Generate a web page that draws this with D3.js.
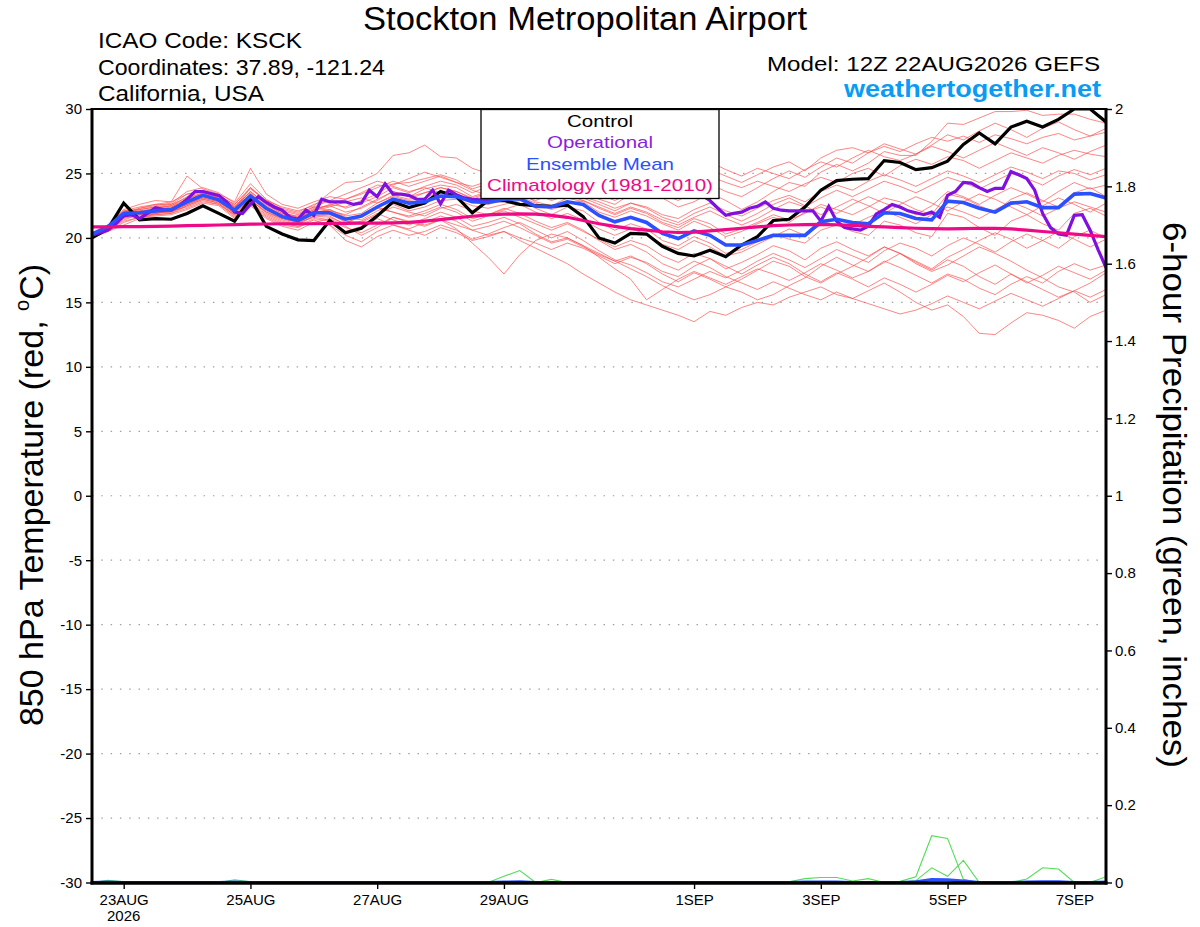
<!DOCTYPE html>
<html>
<head>
<meta charset="utf-8">
<script src="https://cdn.jsdelivr.net/npm/d3@7"></script>
<style>
  body { margin: 0; background: #fff; }
  svg { display: block; }
  text { font-family: "Liberation Sans", Arial, Helvetica, sans-serif; }
</style>
</head>
<body>
<svg id="chart" width="1200" height="927"></svg>
<script>
// Globals.
var RUN_START = Date.UTC(2026, 7, 22, 12);   // 12Z 22AUG2026
var HOUR = 3600 * 1000;
var FORECAST_HOURS = 384;

// Axis ticks.
var tempTicks = [-30, -25, -20, -15, -10, -5, 0, 5, 10, 15, 20, 25, 30];
var precipTicks = [0, 0.2, 0.4, 0.6, 0.8, 1, 1.2, 1.4, 1.6, 1.8, 2];
var dayTicks = ['2026-08-23', '2026-08-25', '2026-08-27', '2026-08-29',
                '2026-09-01', '2026-09-03', '2026-09-05', '2026-09-07'];
var dayLabels = ['23AUG', '25AUG', '27AUG', '29AUG', '1SEP', '3SEP', '5SEP', '7SEP'];

// 850 hPa temperature, 6-hourly (65 steps).
var control = [
  20.0, 20.7, 22.7, 21.4, 21.5, 21.45, 21.9, 22.5, 21.9, 21.3,
  23.05, 20.9, 20.3, 19.85, 19.8, 21.35, 20.4, 20.75, 21.7, 22.8,
  22.35, 22.7, 23.6, 23.2, 21.95, 22.9, 22.9, 22.6, 22.5, 22.45,
  22.55, 21.65, 20.0, 19.6, 20.35, 20.3, 19.35, 18.8, 18.6, 19.05,
  18.55, 19.45, 20.1, 21.35, 21.45, 22.4, 23.7, 24.45, 24.55, 24.6,
  26.0, 25.85, 25.3, 25.45, 25.95, 27.25, 28.15, 27.3, 28.6, 29.05,
  28.6, 29.2, 30.0, 30.0, 29.0];

var ensMean = [
  20.3, 20.85, 21.9, 21.95, 22.1, 22.2, 22.8, 23.3, 22.95, 22.15,
  23.25, 22.3, 21.65, 21.35, 21.95, 21.95, 21.45, 21.7, 22.4, 23.0,
  22.7, 22.8, 23.25, 23.2, 22.8, 22.75, 23.0, 23.05, 22.45, 22.4,
  22.8, 22.6, 21.75, 21.25, 21.6, 21.2, 20.35, 19.95, 20.55, 20.2,
  19.45, 19.45, 19.8, 20.2, 20.2, 20.2, 21.25, 21.45, 21.2, 21.1,
  21.95, 21.9, 21.5, 21.4, 22.85, 22.75, 22.3, 22.0, 22.7, 22.8,
  22.35, 22.35, 23.4, 23.45, 23.1];

var climatology = [
  20.85, 20.86, 20.87, 20.88, 20.9, 20.92, 20.95, 20.98, 21.0, 21.03,
  21.07, 21.08, 21.1, 21.1, 21.1, 21.12, 21.13, 21.14, 21.15, 21.17,
  21.2, 21.3, 21.42, 21.55, 21.68, 21.78, 21.84, 21.87, 21.85, 21.75,
  21.6, 21.35, 21.1, 20.9, 20.72, 20.6, 20.48, 20.42, 20.45, 20.55,
  20.65, 20.75, 20.85, 20.95, 21.0, 21.03, 21.05, 21.02, 20.97, 20.9,
  20.85, 20.8, 20.75, 20.72, 20.7, 20.72, 20.75, 20.74, 20.7, 20.6,
  20.5, 20.4, 20.3, 20.2, 20.1];

// Operational run, 3-hourly (129 steps).
var operational = [
  20.2, 20.4, 20.6, 21.1, 21.7, 21.8, 21.5, 21.9, 22.35, 22.2,
  22.15, 22.5, 23.0, 23.6, 23.6, 23.45, 23.3, 22.8, 22.0, 21.9,
  22.6, 23.2, 22.75, 22.4, 22.15, 21.6, 21.45, 22.15, 21.75, 23.0,
  22.8, 22.8, 22.8, 22.6, 22.7, 23.7, 23.2, 24.2, 23.4, 23.4,
  23.3, 23.0, 23.0, 23.7, 22.65, 23.7, 23.35, 23.1, 23.0, 22.95,
  22.95, 23.0, 23.05, 23.3, 23.6, 23.9, 24.2, 24.0, 23.8, 24.1,
  24.4, 24.6, 24.3, 24.5, 24.8, 25.0, 24.6, 24.4, 24.7, 24.9,
  24.5, 24.2, 24.0, 23.6, 23.5, 23.7, 23.4, 23.3, 22.9, 22.3,
  21.75, 21.9, 22.0, 22.3, 22.45, 22.8, 22.3, 22.15, 22.1, 22.1,
  22.1, 22.1, 21.3, 22.45, 21.3, 20.8, 20.7, 20.6, 20.9, 21.85,
  22.2, 22.6, 22.4, 22.1, 21.95, 21.8, 22.0, 21.6, 23.3, 23.6,
  24.3, 24.25, 23.9, 23.6, 23.85, 23.85, 25.15, 24.9, 24.6, 23.7,
  21.9, 20.8, 20.3, 20.2, 21.75, 21.8, 20.6, 19.1, 17.7];

// Ensemble members, 6-hourly (65 steps each).
var member01 = [
  20.2, 20.8, 21.6, 22.3, 22.6, 22.8, 23.4, 23.6, 23.2, 22.6, 23.8, 22.9, 22.4,
  22.1, 22.5, 23.5, 24.3, 24.4, 25.0, 26.4, 26.6, 27.2, 26.3, 26.2, 25.4, 25.0,
  25.2, 24.6, 24.0, 23.6, 24.2, 23.8, 23.0, 22.6, 23.4, 23.9, 23.1, 22.4, 22.8,
  23.5, 22.9, 22.2, 22.8, 23.6, 24.3, 24.0, 25.1, 25.7, 25.2, 25.8, 26.7, 26.4,
  26.4, 27.5, 28.9, 28.8, 29.3, 29.8, 29.8, 29.9, 29.5, 29.6, 29.6, 29.2, 28.9];
var member02 = [
  20.1, 20.6, 21.3, 21.6, 21.8, 21.9, 22.5, 23.0, 22.7, 21.8, 22.9, 22.0, 21.5,
  21.2, 21.6, 21.4, 20.8, 20.4, 21.0, 21.6, 21.3, 21.0, 21.4, 21.0, 20.6, 20.2,
  20.5, 19.8, 19.2, 18.6, 18.0, 17.2, 16.5, 15.8, 15.2, 14.8, 14.4, 14.0, 13.5,
  14.3, 14.0, 14.6, 15.0, 14.8, 15.4, 15.8, 16.2, 15.6, 15.3, 15.9, 16.5, 15.8,
  15.0, 14.4, 14.8, 13.9, 12.6, 12.5, 13.4, 14.2, 14.0, 13.6, 13.0, 13.9, 14.4];
var member03 = [
  20.0, 20.5, 21.0, 21.5, 21.9, 22.1, 22.4, 22.9, 22.6, 21.6, 22.8, 21.8, 21.2,
  20.9, 21.2, 21.5, 20.9, 20.2, 20.8, 21.6, 21.2, 20.9, 21.4, 20.7, 19.6, 18.5,
  17.2, 18.7, 19.8, 20.3, 20.0, 19.4, 18.8, 18.2, 17.6, 17.0, 16.3, 15.7, 15.2,
  15.6, 16.2, 15.8, 15.2, 15.6, 16.3, 16.9, 17.8, 18.5, 17.9, 17.4, 18.1, 18.8,
  18.0, 17.4, 17.9, 18.6, 19.3, 18.8, 18.2, 17.5, 16.9, 16.2, 15.8, 15.0, 15.6];
var member04 = [
  20.3, 21.0, 22.1, 22.2, 22.4, 22.6, 23.1, 23.5, 23.3, 22.4, 23.6, 22.6, 22.0,
  21.6, 22.2, 22.6, 22.4, 22.9, 23.4, 24.2, 24.3, 24.6, 24.9, 24.5, 23.8, 24.2,
  24.8, 24.4, 24.0, 24.6, 25.0, 24.5, 24.1, 23.8, 24.4, 24.9, 24.6, 24.0, 24.5,
  25.3, 24.8, 24.3, 24.9, 25.5, 25.9, 25.2, 26.2, 26.8, 27.0, 26.6, 27.1, 26.7,
  27.3, 27.8, 27.5, 27.9, 27.4, 28.0, 27.7, 27.3, 27.8, 28.1, 27.6, 27.9, 28.2];
var member05 = [
  20.2, 20.9, 22.0, 22.1, 22.3, 22.5, 23.2, 23.6, 23.1, 22.3, 23.9, 22.8, 22.1,
  21.8, 22.4, 22.1, 21.8, 22.4, 23.0, 23.6, 23.2, 23.8, 24.1, 23.9, 23.2, 23.6,
  24.2, 24.6, 24.0, 23.5, 24.3, 24.8, 24.2, 23.7, 23.3, 24.0, 24.5, 25.0, 25.3,
  24.8, 24.3, 23.9, 24.4, 24.0, 23.6, 24.2, 24.7, 24.3, 25.0, 25.4, 24.8, 25.6,
  26.1, 25.7, 26.3, 26.0, 25.4, 26.0, 26.6, 26.2, 25.8, 26.4, 26.8, 26.5, 26.3];
var member06 = [
  20.3, 20.9, 21.9, 22.1, 22.0, 22.3, 22.7, 23.2, 23.0, 22.3, 23.1, 22.2, 21.6,
  21.3, 21.9, 22.2, 21.6, 21.4, 22.1, 22.6, 22.1, 22.4, 22.9, 23.0, 22.5, 22.3,
  22.6, 22.9, 22.3, 21.8, 22.4, 22.1, 21.2, 20.6, 21.1, 20.7, 19.8, 19.4, 20.1,
  19.6, 18.8, 19.1, 19.7, 20.3, 19.9, 19.6, 20.6, 21.0, 20.5, 20.2, 21.3, 21.0,
  20.4, 20.1, 21.9, 21.6, 20.8, 20.2, 21.3, 21.8, 21.1, 20.6, 21.9, 22.3, 21.7];
var member07 = [
  20.2, 21.0, 22.2, 22.6, 22.9, 22.8, 24.8, 23.8, 23.4, 22.8, 25.4, 23.4, 22.6,
  22.3, 22.8, 23.2, 23.0, 23.5, 24.1, 24.0, 23.6, 23.9, 23.5, 23.2, 22.8, 22.6,
  22.9, 23.2, 22.7, 22.2, 22.6, 22.9, 22.3, 21.8, 22.3, 21.9, 21.2, 20.8, 21.5,
  21.1, 20.3, 20.7, 21.2, 21.8, 21.4, 21.9, 22.6, 22.2, 21.8, 22.4, 23.1, 22.8,
  22.2, 21.8, 23.4, 23.1, 22.5, 22.0, 23.0, 23.5, 22.9, 22.4, 23.5, 23.9, 23.2];
var member08 = [
  20.1, 20.7, 21.5, 21.8, 21.8, 21.9, 22.3, 22.8, 22.6, 21.8, 22.6, 21.6, 21.0,
  20.8, 21.4, 21.0, 19.8, 19.3, 20.1, 20.6, 20.2, 20.5, 21.0, 20.6, 19.9, 20.3,
  20.8, 21.2, 20.6, 20.0, 20.5, 19.8, 19.0, 18.3, 17.9, 17.3, 16.6, 16.2, 16.8,
  17.4, 16.9, 17.5, 18.2, 18.8, 18.3, 17.7, 18.4, 19.1, 18.6, 18.1, 19.0, 19.6,
  19.2, 18.6, 19.4, 20.0, 19.5, 18.9, 19.7, 20.3, 19.8, 19.2, 20.1, 20.6, 20.0];
var member09 = [
  20.2, 20.8, 21.8, 22.0, 22.2, 22.4, 22.9, 23.4, 23.2, 22.5, 23.5, 22.5, 21.9,
  21.6, 22.1, 22.4, 22.8, 23.1, 22.7, 23.3, 23.0, 23.5, 23.9, 23.6, 23.0, 23.4,
  23.7, 23.3, 22.9, 23.4, 23.8, 23.2, 22.8, 22.3, 22.7, 22.4, 21.8, 21.5, 22.2,
  22.7, 22.1, 21.7, 22.3, 22.9, 23.3, 22.8, 23.6, 24.1, 23.7, 24.4, 24.9, 24.5,
  24.0, 24.6, 25.2, 24.8, 24.3, 24.9, 25.5, 25.1, 24.6, 25.2, 25.0, 24.5, 24.9];
var member10 = [
  20.0, 20.6, 21.4, 21.8, 22.0, 22.0, 22.6, 23.1, 22.8, 21.9, 23.0, 21.9, 21.3,
  21.0, 21.7, 21.9, 21.2, 21.6, 22.3, 22.0, 21.6, 21.9, 22.4, 22.0, 21.3, 21.7,
  22.1, 21.6, 21.1, 20.6, 21.1, 20.5, 19.9, 19.3, 19.8, 19.4, 18.6, 18.1, 18.8,
  18.4, 17.6, 18.1, 18.7, 19.4, 19.0, 18.3, 19.2, 19.7, 19.1, 18.6, 19.3, 18.8,
  18.1, 17.5, 18.3, 17.8, 17.0, 16.4, 17.2, 16.6, 16.0, 15.4, 15.9, 16.5, 17.3];
var member11 = [
  20.3, 21.0, 22.0, 22.3, 22.5, 22.7, 23.6, 23.9, 23.5, 22.7, 24.2, 23.0, 22.3,
  22.0, 22.6, 22.9, 22.3, 22.7, 23.2, 23.9, 23.5, 24.0, 24.4, 24.1, 23.5, 24.0,
  24.5, 24.1, 23.6, 24.0, 24.5, 24.0, 23.4, 22.9, 23.5, 24.0, 23.4, 22.9, 23.6,
  24.2, 23.6, 23.2, 23.9, 24.6, 25.2, 24.7, 25.5, 26.2, 25.8, 26.6, 27.3, 26.9,
  26.5, 27.2, 28.0, 27.6, 28.3, 28.9, 28.4, 27.8, 28.5, 29.0, 28.4, 27.9, 28.5];
var member12 = [
  20.1, 20.7, 21.7, 21.9, 22.0, 22.2, 22.6, 23.2, 22.9, 22.0, 23.1, 22.1, 21.5,
  21.2, 21.8, 21.7, 21.0, 21.3, 21.9, 21.4, 21.0, 21.5, 22.0, 21.6, 20.9, 21.2,
  21.6, 21.1, 20.3, 19.7, 20.0, 19.4, 18.5, 17.6, 16.8, 15.2, 16.0, 16.8, 17.4,
  16.9, 16.4, 17.0, 17.6, 17.2, 16.7, 17.3, 18.0, 17.5, 16.9, 17.4, 18.2, 17.7,
  17.1, 16.5, 17.2, 16.8, 16.1, 15.6, 16.4, 17.0, 16.5, 17.4, 18.0, 17.5, 17.9];
var member13 = [
  20.2, 20.9, 22.0, 22.0, 22.2, 22.3, 22.9, 23.4, 23.1, 22.2, 23.4, 22.4, 21.8,
  21.5, 22.0, 22.2, 21.7, 21.9, 22.7, 23.2, 22.9, 23.1, 23.6, 23.4, 22.9, 22.7,
  23.2, 23.5, 22.8, 22.5, 23.1, 22.8, 22.0, 21.6, 22.1, 21.7, 21.1, 20.6, 21.3,
  20.8, 20.1, 20.5, 21.1, 21.6, 21.2, 22.0, 22.4, 21.9, 22.6, 23.2, 22.7, 22.3,
  21.8, 22.5, 23.6, 23.2, 22.6, 23.3, 23.9, 23.4, 22.8, 23.6, 24.3, 23.8, 24.1];
var member14 = [
  20.0, 20.5, 21.2, 21.6, 21.7, 21.8, 22.2, 22.7, 22.5, 21.5, 22.5, 21.5, 20.9,
  20.6, 21.2, 21.0, 20.2, 19.7, 20.5, 21.0, 20.6, 20.2, 20.8, 20.4, 19.8, 20.1,
  20.5, 20.0, 19.6, 19.1, 19.6, 19.2, 18.6, 18.0, 18.5, 18.1, 17.4, 17.0, 17.8,
  18.4, 17.8, 17.2, 17.9, 18.5, 18.0, 17.2, 16.6, 17.3, 16.8, 16.2, 16.9, 16.4,
  15.8, 16.4, 17.1, 16.6, 17.3, 17.9, 17.2, 16.5, 17.1, 17.8, 17.3, 16.8, 17.5];
var member15 = [
  20.3, 21.0, 22.1, 22.4, 22.6, 22.6, 23.4, 23.7, 23.3, 22.6, 23.9, 22.9, 22.2,
  21.9, 22.4, 22.9, 23.4, 23.9, 24.4, 24.1, 24.6, 25.1, 24.7, 24.3, 24.0, 24.4,
  24.9, 25.3, 24.8, 24.4, 25.0, 25.5, 25.1, 24.6, 25.2, 25.7, 25.2, 24.8, 25.4,
  25.9, 25.3, 24.8, 25.4, 25.0, 24.6, 25.3, 25.9, 25.5, 26.2, 26.8, 26.3, 26.0,
  26.5, 27.1, 26.7, 26.2, 26.8, 27.4, 26.9, 26.4, 27.0, 26.6, 26.1, 26.7, 27.2];
var member16 = [
  20.1, 20.8, 21.9, 21.8, 22.1, 22.1, 22.8, 23.3, 22.9, 22.1, 23.3, 22.2, 21.6,
  21.4, 22.1, 21.8, 21.3, 21.2, 21.8, 22.4, 22.0, 21.7, 22.3, 22.6, 22.1, 21.8,
  22.2, 22.6, 22.0, 21.5, 21.9, 21.4, 20.7, 20.2, 20.7, 20.3, 19.5, 19.1, 19.8,
  19.3, 18.6, 18.9, 19.5, 20.1, 20.7, 20.2, 21.0, 21.5, 21.0, 21.6, 22.1, 21.6,
  21.1, 21.8, 22.4, 22.0, 21.5, 22.2, 22.8, 22.3, 21.7, 22.3, 22.8, 22.4, 22.0];
var member17 = [
  20.0, 20.6, 21.6, 21.7, 21.9, 22.0, 22.5, 23.0, 22.7, 21.7, 22.7, 21.7, 21.1,
  20.9, 21.5, 21.3, 20.5, 20.9, 21.5, 21.0, 20.7, 21.2, 21.7, 21.3, 20.6, 20.9,
  21.3, 20.8, 20.2, 19.6, 19.9, 19.3, 18.7, 18.2, 18.6, 18.0, 17.2, 16.6, 17.3,
  16.8, 16.2, 16.8, 17.5, 18.2, 17.8, 17.0, 16.5, 17.2, 17.8, 18.5, 19.3, 18.8,
  18.2, 17.6, 18.5, 19.1, 19.8, 20.4, 19.9, 19.2, 19.8, 20.5, 19.9, 19.3, 19.9];
var member18 = [
  20.2, 20.9, 22.0, 22.2, 22.4, 22.4, 23.0, 23.5, 23.2, 22.4, 23.6, 22.6, 21.9,
  21.7, 22.3, 22.5, 23.0, 23.4, 23.9, 24.4, 24.0, 24.4, 24.8, 24.3, 23.7, 23.3,
  23.6, 24.0, 23.4, 22.9, 23.3, 22.9, 22.4, 21.9, 22.4, 22.0, 21.4, 21.0, 21.6,
  22.1, 21.5, 21.0, 21.5, 22.2, 22.8, 22.4, 23.1, 23.7, 23.2, 23.8, 24.4, 24.0,
  23.5, 24.1, 24.7, 24.3, 23.8, 24.4, 25.0, 24.6, 24.1, 24.8, 25.3, 24.9, 25.4];
var member19 = [
  20.1, 20.7, 21.6, 21.9, 21.9, 22.1, 22.6, 23.1, 22.8, 21.9, 23.0, 22.0, 21.4,
  21.1, 21.7, 21.6, 21.1, 21.8, 22.4, 22.0, 21.7, 22.1, 22.6, 22.2, 21.5, 21.8,
  22.3, 21.9, 21.3, 20.8, 21.2, 20.6, 19.8, 19.1, 19.5, 18.9, 18.0, 17.5, 18.2,
  17.7, 17.0, 16.5, 16.0, 16.6, 16.1, 15.6, 15.2, 15.8, 15.3, 14.9, 14.5, 14.1,
  14.4, 14.9, 15.5, 15.0, 14.5, 15.1, 15.7, 15.2, 14.7, 15.3, 15.9, 15.4, 16.0];
var member20 = [
  20.3, 20.9, 21.8, 22.0, 22.3, 22.5, 23.0, 23.4, 23.0, 22.4, 23.4, 22.4, 21.8,
  21.5, 22.2, 22.5, 22.0, 22.3, 22.9, 23.6, 23.2, 23.5, 23.9, 23.6, 23.1, 23.5,
  23.9, 24.2, 23.5, 23.0, 23.5, 23.1, 22.6, 22.1, 22.7, 22.3, 21.6, 21.2, 21.9,
  22.4, 21.8, 21.3, 21.9, 22.6, 23.1, 22.5, 21.8, 22.4, 23.0, 22.5, 21.9, 22.6,
  23.2, 22.7, 22.1, 22.8, 23.4, 23.0, 22.4, 21.8, 22.5, 23.1, 22.6, 22.0, 22.7];

var members = [member01, member02, member03, member04, member05, member06, member07,
               member08, member09, member10, member11, member12, member13, member14,
               member15, member16, member17, member18, member19, member20];

// 6-hour precipitation (inches), members that recorded any, 6-hourly.
var precipA = [
  0, 0.006, 0.002, 0, 0, 0, 0, 0, 0, 0.007, 0.002, 0, 0,
  0, 0, 0, 0, 0, 0, 0, 0, 0, 0, 0, 0, 0,
  0, 0, 0, 0, 0, 0, 0, 0, 0, 0, 0, 0, 0,
  0, 0, 0, 0, 0, 0, 0, 0, 0, 0, 0, 0, 0,
  0, 0, 0, 0, 0, 0, 0, 0, 0, 0, 0, 0, 0];
var precipB = [
  0, 0, 0, 0, 0, 0, 0, 0, 0, 0, 0, 0, 0,
  0, 0, 0, 0, 0, 0, 0, 0, 0, 0, 0, 0, 0,
  0.016, 0.031, 0, 0.008, 0, 0, 0, 0, 0, 0, 0, 0, 0,
  0, 0, 0, 0, 0, 0, 0, 0, 0, 0, 0, 0, 0,
  0, 0, 0, 0, 0, 0, 0, 0, 0, 0, 0, 0, 0];
var precipC = [
  0, 0, 0, 0, 0, 0, 0, 0, 0, 0, 0, 0, 0,
  0, 0, 0, 0, 0, 0, 0, 0, 0, 0, 0, 0, 0,
  0, 0, 0, 0, 0, 0, 0, 0, 0, 0, 0, 0, 0,
  0, 0, 0, 0, 0, 0.002, 0.010, 0.013, 0.013, 0.004, 0.010, 0, 0,
  0, 0, 0, 0, 0, 0, 0, 0, 0, 0, 0, 0, 0];
var precipD = [
  0, 0, 0, 0, 0, 0, 0, 0, 0, 0, 0, 0, 0,
  0, 0, 0, 0, 0, 0, 0, 0, 0, 0, 0, 0, 0,
  0, 0, 0, 0, 0, 0, 0, 0, 0, 0, 0, 0, 0,
  0, 0, 0, 0, 0, 0, 0, 0, 0, 0, 0, 0, 0.003,
  0.015, 0.121, 0.114, 0.008, 0, 0, 0, 0, 0, 0, 0, 0, 0];
var precipE = [
  0, 0, 0, 0, 0, 0, 0, 0, 0, 0, 0, 0, 0,
  0, 0, 0, 0, 0, 0, 0, 0, 0, 0, 0, 0, 0,
  0, 0, 0, 0, 0, 0, 0, 0, 0, 0, 0, 0, 0,
  0, 0, 0, 0, 0, 0, 0, 0, 0, 0, 0, 0, 0,
  0.005, 0.038, 0.016, 0.057, 0, 0, 0, 0, 0, 0, 0, 0, 0];
var precipF = [
  0, 0, 0, 0, 0, 0, 0, 0, 0, 0, 0, 0, 0,
  0, 0, 0, 0, 0, 0, 0, 0, 0, 0, 0, 0, 0,
  0, 0, 0, 0, 0, 0, 0, 0, 0, 0, 0, 0, 0,
  0, 0, 0, 0, 0, 0, 0, 0, 0, 0, 0, 0, 0,
  0, 0, 0, 0, 0, 0, 0, 0.009, 0.038, 0.035, 0, 0, 0.015];
var precipMembers = [precipA, precipB, precipC, precipD, precipE, precipF];

var precipMean = [
  0, 0.001, 0, 0, 0, 0, 0, 0, 0, 0.001, 0, 0, 0,
  0, 0, 0, 0, 0, 0, 0, 0, 0, 0, 0, 0, 0,
  0.001, 0.002, 0, 0, 0, 0, 0, 0, 0, 0, 0, 0, 0,
  0, 0, 0, 0, 0, 0, 0.001, 0.001, 0.001, 0, 0, 0, 0,
  0.002, 0.008, 0.007, 0.004, 0, 0, 0, 0.001, 0.002, 0.002, 0, 0, 0.001];

var legendItems = [
  {label: 'Control', color: '#000000', width: 66},
  {label: 'Operational', color: '#8a1ee0', width: 106},
  {label: 'Ensemble Mean', color: '#2b50ff', width: 148},
  {label: 'Climatology (1981-2010)', color: '#ee0a86', width: 226}
];

/**
 * Layout.
 */
var PLOT = {left: 92, right: 1106, top: 109, bottom: 882.5};
var FONT = '"Liberation Sans", Arial, Helvetica, sans-serif';

var svg = d3.select('#chart');
svg.append('rect').attr('width', 1200).attr('height', 927).attr('fill', '#fff');

var x = d3.scaleUtc()
  .domain([new Date(RUN_START), new Date(RUN_START + FORECAST_HOURS * HOUR)])
  .range([PLOT.left, PLOT.right]);
var yT = d3.scaleLinear().domain([-30, 30]).range([PLOT.bottom, PLOT.top]);
var yP = d3.scaleLinear().domain([0, 2]).range([PLOT.bottom, PLOT.top]);

var stepTime = function(hours) {
  return function(d, i) { return x(new Date(RUN_START + i * hours * HOUR)); };
};

var tempLine = d3.line().x(stepTime(6)).y(function(d) { return yT(d); });
var opLine = d3.line().x(stepTime(3)).y(function(d) { return yT(d); });
var precipLine = d3.line().x(stepTime(6)).y(function(d) { return yP(d); });

svg.append('clipPath').attr('id', 'plot-clip')
  .append('rect')
  .attr('x', PLOT.left).attr('y', PLOT.top - 1)
  .attr('width', PLOT.right - PLOT.left).attr('height', PLOT.bottom - PLOT.top + 1);

// Dotted grid lines.
svg.append('g').selectAll('line')
  .data(tempTicks.filter(function(t) { return t > -30 && t < 30; }))
  .enter().append('line')
  .attr('x1', PLOT.left).attr('x2', PLOT.right)
  .attr('y1', function(d) { return yT(d); })
  .attr('y2', function(d) { return yT(d); })
  .attr('stroke', '#a0a0a0')
  .attr('stroke-width', 1.2)
  .attr('stroke-dasharray', '1.5,7.8');

var plot = svg.append('g').attr('clip-path', 'url(#plot-clip)');

// Ensemble members.
plot.append('g').selectAll('path')
  .data(members)
  .enter().append('path')
  .attr('d', tempLine)
  .attr('fill', 'none')
  .attr('stroke', '#ff4a4a')
  .attr('stroke-opacity', 0.75)
  .attr('stroke-width', 0.9);

// Precipitation members and mean.
plot.append('g').selectAll('path')
  .data(precipMembers)
  .enter().append('path')
  .attr('d', precipLine)
  .attr('fill', 'none')
  .attr('stroke', '#55dd55')
  .attr('stroke-width', 1.1);

plot.append('path')
  .attr('d', precipLine(precipMean))
  .attr('fill', 'none')
  .attr('stroke', '#2b50ff')
  .attr('stroke-width', 3);

var addBold = function(d, gen, color, w) {
  plot.append('path')
    .attr('d', gen(d))
    .attr('fill', 'none')
    .attr('stroke', color)
    .attr('stroke-width', w)
    .attr('stroke-linejoin', 'miter');
};
addBold(control, tempLine, '#000000', 3.2);
addBold(operational, opLine, '#7f10e0', 3.2);
addBold(ensMean, tempLine, '#2b50ff', 3.6);
addBold(climatology, tempLine, '#ee0a86', 3.2);

// Frame.
var frame = svg.append('g').attr('stroke', '#000').attr('fill', 'none');
frame.append('line').attr('x1', PLOT.left).attr('x2', PLOT.right)
  .attr('y1', PLOT.top).attr('y2', PLOT.top).attr('stroke-width', 2);
frame.append('line').attr('x1', PLOT.left - 1.5).attr('x2', PLOT.right + 1.5)
  .attr('y1', PLOT.bottom + 0.5).attr('y2', PLOT.bottom + 0.5).attr('stroke-width', 3.5);
frame.append('line').attr('x1', PLOT.left).attr('x2', PLOT.left)
  .attr('y1', PLOT.top - 1).attr('y2', PLOT.bottom + 2).attr('stroke-width', 3);
frame.append('line').attr('x1', PLOT.right).attr('x2', PLOT.right)
  .attr('y1', PLOT.top - 1).attr('y2', PLOT.bottom + 2).attr('stroke-width', 3);

// Axes.
var styleAxis = function(g) {
  g.select('.domain').remove();
  g.selectAll('.tick line').attr('stroke', '#000').attr('stroke-width', 1.4);
  g.selectAll('.tick text').attr('fill', '#000').attr('font-size', 15).attr('font-family', FONT);
};

svg.append('g')
  .attr('transform', 'translate(' + PLOT.left + ',0)')
  .call(d3.axisLeft(yT).tickValues(tempTicks).tickSize(6).tickPadding(4)
    .tickFormat(function(d) { return String(d); }))
  .call(styleAxis);

svg.append('g')
  .attr('transform', 'translate(' + PLOT.right + ',0)')
  .call(d3.axisRight(yP).tickValues(precipTicks).tickSize(6).tickPadding(3)
    .tickFormat(function(d) { return String(+d.toFixed(1)); }))
  .call(styleAxis);

var dayDates = dayTicks.map(function(s) { return new Date(s + 'T00:00:00Z'); });
svg.append('g')
  .attr('transform', 'translate(0,' + (PLOT.bottom + 0.5) + ')')
  .call(d3.axisBottom(x).tickValues(dayDates).tickSize(6).tickPadding(5)
    .tickFormat(function(d, i) { return dayLabels[i]; }))
  .call(styleAxis);

svg.append('text')
  .attr('x', x(dayDates[0])).attr('y', 921)
  .attr('text-anchor', 'middle').attr('font-size', 15)
  .text('2026');

// Header text.
var addText = function(t, xPos, yPos, size, anchor, len, color, weight) {
  var el = svg.append('text')
    .attr('x', xPos).attr('y', yPos)
    .attr('font-size', size)
    .attr('text-anchor', anchor)
    .attr('fill', color || '#000')
    .attr('font-weight', weight || 'normal')
    .text(t);
  if (len) el.attr('textLength', len).attr('lengthAdjust', 'spacingAndGlyphs');
  return el;
};

addText('Stockton Metropolitan Airport', 585, 30, 34, 'middle', 444);
addText('ICAO Code: KSCK', 98, 48, 22, 'start', 204);
addText('Coordinates: 37.89, -121.24', 98, 75, 22, 'start', 287);
addText('California, USA', 98, 101, 22, 'start', 166);
addText('Model: 12Z 22AUG2026 GEFS', 1100, 71, 21, 'end', 333);
addText('weathertogether.net', 1101, 97, 24, 'end', 257, '#0a9bf5', 'bold');

// Axis titles.
var leftTitle = svg.append('text')
  .attr('transform', 'translate(43,495) rotate(-90)')
  .attr('text-anchor', 'middle')
  .attr('font-size', 34);
leftTitle.append('tspan').text('850 hPa Temperature (red, ');
leftTitle.append('tspan').attr('font-size', 20).attr('dy', -14).text('o');
leftTitle.append('tspan').attr('dy', 14).text('C)');

svg.append('text')
  .attr('transform', 'translate(1163,495) rotate(90)')
  .attr('text-anchor', 'middle')
  .attr('font-size', 34)
  .attr('textLength', 546).attr('lengthAdjust', 'spacingAndGlyphs')
  .text('6-hour Precipitation (green, inches)');

// Legend.
var legend = svg.append('g');
legend.append('rect')
  .attr('x', 481).attr('y', 109.5)
  .attr('width', 238).attr('height', 89)
  .attr('fill', '#fff').attr('stroke', '#000').attr('stroke-width', 1.3);
legend.selectAll('text')
  .data(legendItems)
  .enter().append('text')
  .attr('x', 600)
  .attr('y', function(d, i) { return 127 + i * 21.4; })
  .attr('text-anchor', 'middle')
  .attr('font-size', 17)
  .attr('fill', function(d) { return d.color; })
  .attr('textLength', function(d) { return d.width; })
  .attr('lengthAdjust', 'spacingAndGlyphs')
  .text(function(d) { return d.label; });
</script>
</body>
</html>
